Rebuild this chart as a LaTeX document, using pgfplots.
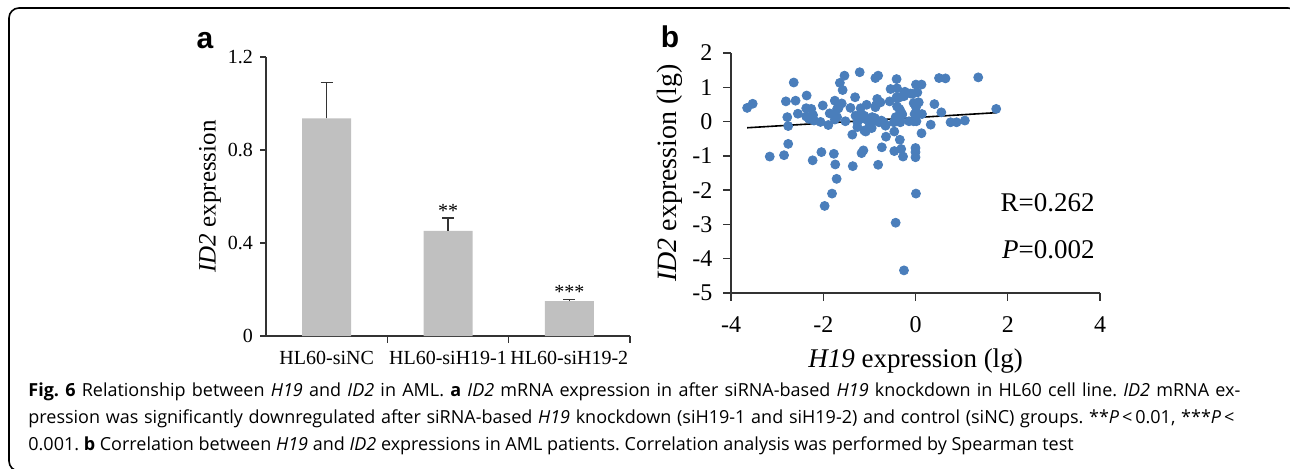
\documentclass[border=0pt]{standalone}
\usepackage{fontspec}
\setmainfont{Liberation Serif}
\newfontfamily\capfont{Open Sans}
\newfontfamily\panelfont{Liberation Sans}
\usepackage{pgfplots}
\pgfplotsset{compat=1.18}
\definecolor{bargray}{HTML}{C0C0C0}
\definecolor{dotblue}{HTML}{4A7EBB}
\definecolor{axisgray}{HTML}{333333}

\begin{document}
\frenchspacing
\begin{tikzpicture}
% frame (1px = 0.5pt, origin at top left)
\begin{scope}
  \clip (0,0) rectangle (645pt,-234pt);
  \draw[line width=0.8pt, rounded corners=5pt] (4.5pt,-4pt) rectangle (649pt,-235.5pt);
\end{scope}

% panel a
\begin{axis}[
    at={(133pt,-168pt)}, anchor=south west,
    scale only axis, width=182pt, height=139.5pt,
    xmin=-0.5, xmax=2.5, ymin=0, ymax=1.2,
    clip=false,
    axis x line*=bottom, axis y line*=left,
    axis line style={axisgray, line width=0.7pt},
    tick style={axisgray, line width=0.7pt},
    tick align=outside, major tick length=3pt,
    ytick={0,0.4,0.8,1.2}, yticklabels={0,0.4,0.8,1.2},
    xtick={0,1,2}, xticklabels={HL60-siNC,HL60-siH19-1,HL60-siH19-2},
    xtick style={draw=none},
    ticklabel style={font=\fontsize{10pt}{12pt}\selectfont},
    xticklabel style={yshift=-1pt},
    ylabel={\textit{ID2} expression},
    ylabel style={at={(axis description cs:-0.154,0.5)}, anchor=center,
      font=\fontsize{12.5pt}{15pt}\selectfont},
  ]
  \addplot[ybar, bar width=24.5pt, fill=bargray, draw=none,
    error bars/.cd, y dir=plus, y explicit,
    error bar style={axisgray, line width=0.6pt},
    error mark options={rotate=90, axisgray, line width=0.6pt, mark size=3pt}]
    coordinates {(0,0.936) +- (0,0.153) (1,0.452) +- (0,0.056) (2,0.150) +- (0,0.008)};
  % category separators on the x axis
  \draw[axisgray, line width=0.7pt] (axis cs:0.5,0) -- ++(0pt,-3.5pt);
  \draw[axisgray, line width=0.7pt] (axis cs:1.5,0) -- ++(0pt,-3.5pt);
  \draw[axisgray, line width=0.7pt] (axis cs:2.5,0) -- ++(0pt,-3.5pt);
  \node[anchor=base, inner sep=0, yshift=0.5pt, font=\fontsize{10pt}{12pt}\selectfont] at (axis cs:1,0.5075) {**};
  \node[anchor=base, inner sep=0, yshift=0.5pt, font=\fontsize{10pt}{12pt}\selectfont] at (axis cs:2,0.158) {***};
\end{axis}

% panel b
\begin{axis}[
    at={(365.5pt,-146.5pt)}, anchor=south west,
    scale only axis, width=184.5pt, height=120pt,
    xmin=-4, xmax=4, ymin=-5, ymax=2,
    axis x line*=bottom, axis y line*=left,
    axis line style={axisgray, line width=0.7pt},
    tick style={axisgray, line width=0.7pt},
    tick align=outside, major tick length=3.8pt,
    xtick={-4,-2,0,2,4}, xticklabels={-4,-2,0,2,4},
    ytick={-5,-4,-3,-2,-1,0,1,2}, yticklabels={-5,-4,-3,-2,-1,0,1,2},
    ticklabel style={font=\fontsize{12pt}{14pt}\selectfont},
    xticklabel style={yshift=-4.5pt},
    yticklabel style={xshift=-2pt},
    xlabel={\textit{H19} expression (lg)},
    xlabel style={at={(axis description cs:0.5,-0.282)}, anchor=center,
      font=\fontsize{13.5pt}{16pt}\selectfont},
    ylabel={\textit{ID2} expression (lg)},
    ylabel style={at={(axis description cs:-0.165,0.5)}, anchor=center,
      font=\fontsize{14pt}{16pt}\selectfont},
  ]
  \addplot[only marks, mark=*, mark size=2.25pt, dotblue, mark options={fill=dotblue, draw=dotblue}]
    coordinates {
    (-3.65,0.40) (-3.53,0.52) (-2.64,1.14) (-2.81,0.59) (-2.60,0.61) (-2.36,0.76)
    (-2.78,0.13) (-2.76,-0.13) (-2.55,0.23) (-2.76,-0.65) (-3.16,-1.02) (-2.85,-0.98)
    (-2.37,0.39) (-2.26,0.37) (-2.37,0.15) (-2.31,0.08) (-2.22,0.19) (-2.20,0.03)
    (-2.06,-0.01) (-2.01,0.47) (-2.23,-1.13) (-2.04,-0.89) (-1.89,-0.10) (-1.86,0.24)
    (-1.75,0.61) (-1.64,1.13) (-1.54,1.34) (-1.58,0.92) (-1.60,0.53) (-1.67,0.39)
    (-1.76,0.21) (-1.70,0.13) (-1.52,0.01) (-1.77,-0.94) (-1.74,-1.25) (-1.71,-1.67)
    (-1.81,-2.10) (-1.97,-2.46) (-1.41,0.40) (-1.31,0.71) (-1.21,1.44) (-1.19,0.39)
    (-1.20,0.17) (-1.13,0.13) (-1.26,-0.02) (-1.26,-0.16) (-1.37,-0.38) (-1.36,-1.30)
    (-1.13,-0.84) (-1.17,-0.92) (-1.06,0.49) (-0.98,0.01) (-1.00,-0.15) (-1.08,-0.29)
    (-0.95,-0.19) (-0.87,1.27) (-0.81,1.34) (-0.87,0.42) (-0.83,0.66) (-0.76,0.56)
    (-0.88,0.10) (-0.74,0.03) (-0.65,-0.10) (-0.69,-0.02) (-0.73,-0.75) (-0.64,-0.44)
    (-0.81,-1.26) (-0.54,0.95) (-0.41,1.24) (-0.40,0.97) (-0.56,0.59) (-0.39,0.68)
    (-0.35,0.37) (-0.29,0.22) (-0.33,0.03) (-0.43,0.13) (-0.46,-0.29) (-0.34,-0.53)
    (-0.31,-0.80) (-0.46,-0.86) (-0.27,-1.02) (-0.43,-2.95) (-0.25,-4.34) (-0.23,0.87)
    (-0.25,0.74) (-0.07,0.81) (0.01,1.08) (0.13,1.08) (0.04,0.85) (0.06,0.56)
    (0.01,0.42) (-0.02,0.22) (0.06,0.22) (0.14,0.22) (-0.14,0.01) (-0.04,0.01)
    (0.02,0.01) (0.13,-0.34) (0.00,-0.77) (0.00,-0.89) (0.00,-1.04) (0.01,-2.10)
    (0.33,-0.09) (0.41,0.51) (0.51,1.27) (0.65,1.26) (0.56,0.27) (0.76,-0.02)
    (0.89,-0.02) (1.07,0.03) (1.36,1.29) (1.75,0.37)
    (-1.30,0.17) (-1.11,0.17) (-1.19,0.08) (-1.05,0.05) (-0.94,0.13) (-0.90,0.03)
    (-1.11,-0.26) (-1.01,-0.18) (-0.79,-0.02) (-1.70,0.37) (-1.75,0.06) (-0.41,0.71)
    (-0.34,0.71) (-0.24,0.82) (-0.40,0.44) (-0.33,0.32) (-0.29,0.20) (-0.47,-0.02)
    (-0.33,-0.02) (-0.11,0.82) (-0.04,0.54) (0.07,0.56) (-0.86,0.47) (-0.70,-0.02)
    (-0.65,-0.12) (-0.98,-0.12)
    };
  \addplot[black, line width=0.8pt] coordinates {(-3.65,-0.18) (1.75,0.26)};
\end{axis}

% annotations
\node[anchor=base east, inner sep=0, font=\fontsize{13.5pt}{16pt}\selectfont] at (547.5pt,-105.5pt) {R=0.262};
\node[anchor=base east, inner sep=0, font=\fontsize{13.5pt}{16pt}\selectfont] at (547.5pt,-129pt) {\textit{P}=0.002};
\node[anchor=base, inner sep=0, font=\panelfont\bfseries\fontsize{15pt}{18pt}\selectfont] at (102.5pt,-24pt) {a};
\node[anchor=base, inner sep=0, font=\panelfont\bfseries\fontsize{15pt}{18pt}\selectfont] at (335pt,-23.5pt) {b};

% caption
\begin{scope}[every node/.style={anchor=base west, inner sep=0, font=\capfont\fontsize{9pt}{11pt}\selectfont}]
\node at (14pt,-198pt) {\makebox[606pt][s]{\textbf{Fig. 6} Relationship between \textit{H19} and \textit{ID2} in AML. \textbf{a} \textit{ID2} mRNA expression in after siRNA-based \textit{H19} knockdown in HL60 cell line. \textit{ID2} mRNA ex-}};
\node at (14pt,-211.5pt) {\makebox[603pt][s]{pression was significantly downregulated after siRNA-based \textit{H19} knockdown (siH19-1 and siH19-2) and control (siNC) groups. **\textit{P}\,<\,0.01, ***\textit{P}\,<}};
\node at (14pt,-225pt) {0.001. \textbf{b} Correlation between \textit{H19} and \textit{ID2} expressions in AML patients. Correlation analysis was performed by Spearman test};
\end{scope}

\pgfresetboundingbox
\useasboundingbox (0,0) rectangle (645pt,-234pt);
\end{tikzpicture}
\end{document}
